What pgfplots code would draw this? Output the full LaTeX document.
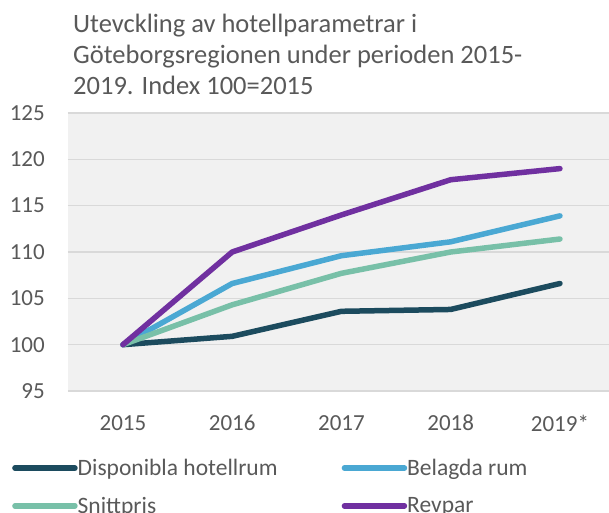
\documentclass[border=0pt]{standalone}
\usepackage{pgfplots}
\pgfplotsset{compat=1.18}
\usepackage{fontspec}
\setmainfont{Carlito}
\definecolor{cdark}{HTML}{1C4B5E}
\definecolor{cblue}{HTML}{4AA8D3}
\definecolor{cgreen}{HTML}{78C0A8}
\definecolor{cpurple}{HTML}{7030A0}
\definecolor{bgc}{HTML}{F1F1F1}
\definecolor{gridc}{HTML}{D9D9D9}
\definecolor{txt}{HTML}{595959}
\begin{document}
\begin{tikzpicture}
\useasboundingbox (-68bp,-122bp) rectangle (541bp,391bp);
\begin{axis}[
  at={(0,0)}, anchor=south west,
  scale only axis,
  width=541bp, height=278bp,
  xmin=-0.503, xmax=4.449,
  ymin=95, ymax=125,
  ytick={95,100,...,125},
  xtick={0,1,2,3,4},
  xticklabels={2015,2016,2017,2018,2019*},
  axis line style={draw=none},
  axis background/.style={fill=bgc},
  major tick length=0pt,
  ymajorgrids,
  grid style={gridc, line width=1.5bp},
  tick label style={font=\fontsize{23bp}{27bp}\selectfont, text=txt, inner sep=0pt},
  /pgf/number format/assume math mode=true,
  yticklabel style={anchor=east, xshift=-23bp},
  xticklabel style={anchor=north, yshift=-24bp},
  legend columns=2,
  legend style={at={(axis description cs:0,0)}, anchor=north west,
    xshift=-56bp, yshift=-68bp, draw=none, fill=none,
    font=\fontsize{23.5bp}{28bp}\selectfont, text=txt,
    inner sep=0pt, row sep=20bp, column sep=0pt,
    nodes={inner sep=0pt},
    cells={anchor=west}},
  legend image code/.code={\draw[#1, line width=5.5bp, line cap=round] (2.75bp,0bp) -- (53.25bp,0bp); \path (0bp,0bp) -- (60bp,0bp);},
  every axis plot/.append style={line width=5.5bp, line cap=round, line join=round},
]
\addplot[cdark] coordinates {(0,100) (1,100.9) (2,103.6) (3,103.8) (4,106.6)};
\addlegendentry{\makebox[264bp][l]{Disponibla hotellrum}}
\addplot[cblue] coordinates {(0,100) (1,106.6) (2,109.6) (3,111.1) (4,113.9)};
\addlegendentry{Belagda rum}
\addplot[cgreen] coordinates {(0,100) (1,104.3) (2,107.7) (3,110.0) (4,111.4)};
\addlegendentry{\makebox[264bp][l]{Snittpris}}
\addplot[cpurple] coordinates {(0,100) (1,110.0) (2,114.0) (3,117.8) (4,119.0)};
\addlegendentry{Revpar}
\end{axis}
\node[anchor=base west, inner sep=0pt, align=left, text=txt,
  font=\fontsize{26.5bp}{31bp}\selectfont] at (5bp,296bp)
  {Utevckling av hotellparametrar i\\Göteborgsregionen under perioden 2015-\\2019. Index 100=2015};
\end{tikzpicture}
\end{document}
